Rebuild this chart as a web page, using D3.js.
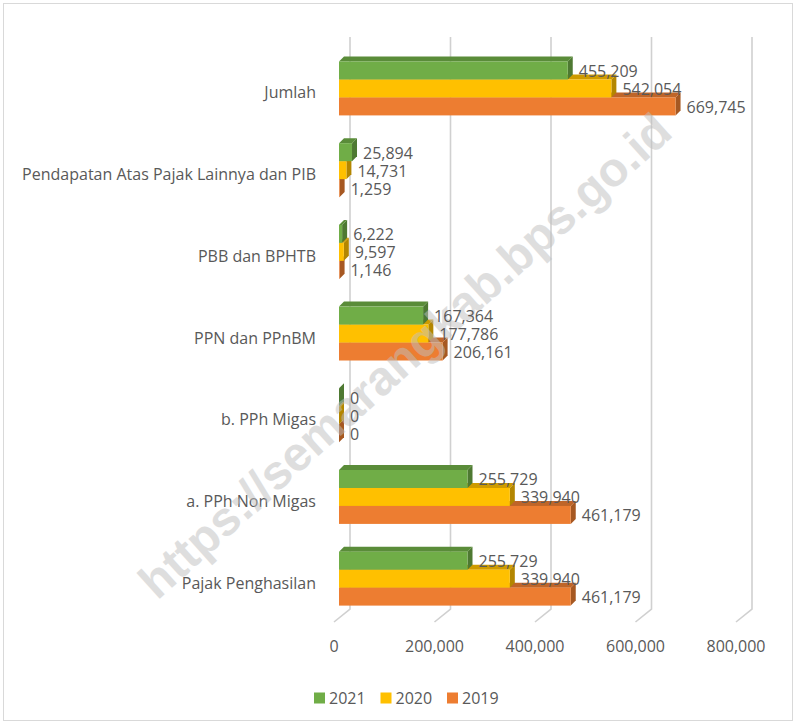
<!DOCTYPE html>
<meta charset="utf-8" />
<script src="https://d3js.org/d3.v7.min.js"></script>
<style>
  body { margin: 0; background: #fff; }
  text { font-family: "Open Sans", sans-serif; fill: #595959; }
</style>
<body>
<div id="chart"></div>
<script>
  // categories from top to bottom, as drawn
  var categories = [
    "Jumlah",
    "Pendapatan Atas Pajak Lainnya dan PIB",
    "PBB dan BPHTB",
    "PPN dan PPnBM",
    "b. PPh Migas",
    "a. PPh Non Migas",
    "Pajak Penghasilan"
  ];
  var years = ["2021", "2020", "2019"];
  var values2021 = [455209, 25894, 6222, 167364, 0, 255729, 255729];
  var values2020 = [542054, 14731, 9597, 177786, 0, 339940, 339940];
  var values2019 = [669745, 1259, 1146, 206161, 0, 461179, 461179];
  var ticks = [0, 200000, 400000, 600000, 800000];
  var colors = { "2021": "#70AD47", "2020": "#FFC000", "2019": "#ED7D31" };

  var width = 796, height = 724;
  var dx = 5, dy = 5; // bar depth

  var series = { "2021": values2021, "2020": values2020, "2019": values2019 };

  var svg = d3.select("#chart").append("svg")
    .attr("width", width).attr("height", height);

  // outer border
  svg.append("rect")
    .attr("x", 3.5).attr("y", 3.5)
    .attr("width", width - 7).attr("height", height - 7)
    .attr("fill", "none").attr("stroke", "#d9d9d9");

  var x = d3.scaleLinear().domain([0, 800000]).range([339, 741]);
  var y = d3.scaleBand().domain(categories).range([47.6, 619.5])
    .paddingInner(0.34).paddingOuter(0.17);
  var ySub = d3.scaleBand().domain(years).range([0, y.bandwidth()]);

  // back wall + floor gridlines
  var grid = svg.append("g");
  grid.selectAll("path").data(ticks).enter().append("path")
    .attr("d", function (d) {
      var xb = x(d) + 11;
      return "M" + xb + ",37 L" + xb + ",609 L" + (xb - 16) + ",622";
    })
    .attr("fill", "none")
    .attr("stroke", "#d0d0d0")
    .attr("stroke-width", 1.6);

  // axis labels
  svg.append("g").selectAll("text").data(ticks).enter().append("text")
    .attr("x", function (d) { return x(d) - 5; })
    .attr("y", 646)
    .attr("text-anchor", "middle")
    .attr("dominant-baseline", "central")
    .style("font-size", "16px")
    .text(function (d) { return d3.format(",")(d); });

  // category labels
  svg.append("g").selectAll("text").data(categories).enter().append("text")
    .attr("x", 316)
    .attr("y", function (d) { return y(d) + y.bandwidth() / 2 + 4; })
    .attr("text-anchor", "end")
    .attr("dominant-baseline", "central")
    .style("font-size", "16px")
    .text(function (d) { return d; });

  // bars: draw 2019 first so upper bars hide lower top faces
  var drawOrder = ["2019", "2020", "2021"];
  var bars = svg.append("g");
  categories.forEach(function (cat, i) {
    drawOrder.forEach(function (yr) {
      var v = series[yr][i];
      var x0 = x(0), x1 = x(v);
      var yt = y(cat) + ySub(yr), yb = yt + ySub.bandwidth();
      var c = d3.color(colors[yr]);
      var g = bars.append("g");
      g.append("path")
        .attr("d", "M" + x1 + "," + yt + " L" + (x1 + dx) + "," + (yt - dy) +
          " L" + (x1 + dx) + "," + (yb - dy) + " L" + x1 + "," + yb + "Z")
        .attr("fill", c.darker(1.0));
      g.append("path")
        .attr("d", "M" + x0 + "," + yt + " L" + (x0 + dx) + "," + (yt - dy) +
          " L" + (x1 + dx) + "," + (yt - dy) + " L" + x1 + "," + yt + "Z")
        .attr("fill", c.darker(0.6));
      g.append("rect")
        .attr("x", x0).attr("y", yt)
        .attr("width", x1 - x0).attr("height", yb - yt)
        .attr("fill", colors[yr]);
    });
  });

  // watermark
  svg.append("text")
    .attr("transform", "translate(416,368) rotate(-42)")
    .attr("text-anchor", "middle")
    .style("font-family", "'Liberation Sans', Arial, sans-serif")
    .style("font-weight", "bold")
    .style("font-size", "48px")
    .style("fill", "#bfbfbf")
    .style("opacity", 0.5)
    .text("https://semarangkab.bps.go.id");

  // data labels
  var labels = svg.append("g");
  categories.forEach(function (cat, i) {
    years.forEach(function (yr) {
      var v = series[yr][i];
      labels.append("text")
        .attr("x", x(v) + 11)
        .attr("y", y(cat) + ySub(yr) + ySub.bandwidth() / 2 + 0.5)
        .attr("dominant-baseline", "central")
        .style("font-size", "16px")
        .text(d3.format(",")(v));
    });
  });

  // legend
  var legend = svg.append("g").selectAll("g").data(years).enter().append("g")
    .attr("transform", function (d, i) { return "translate(" + (314 + i * 66.5) + ",692.5)"; });
  legend.append("rect").attr("width", 11).attr("height", 11)
    .attr("fill", function (d) { return colors[d]; });
  legend.append("text").attr("x", 15).attr("y", 5.5)
    .attr("dominant-baseline", "central")
    .style("font-size", "16px")
    .text(function (d) { return d; });
</script>
</body>
